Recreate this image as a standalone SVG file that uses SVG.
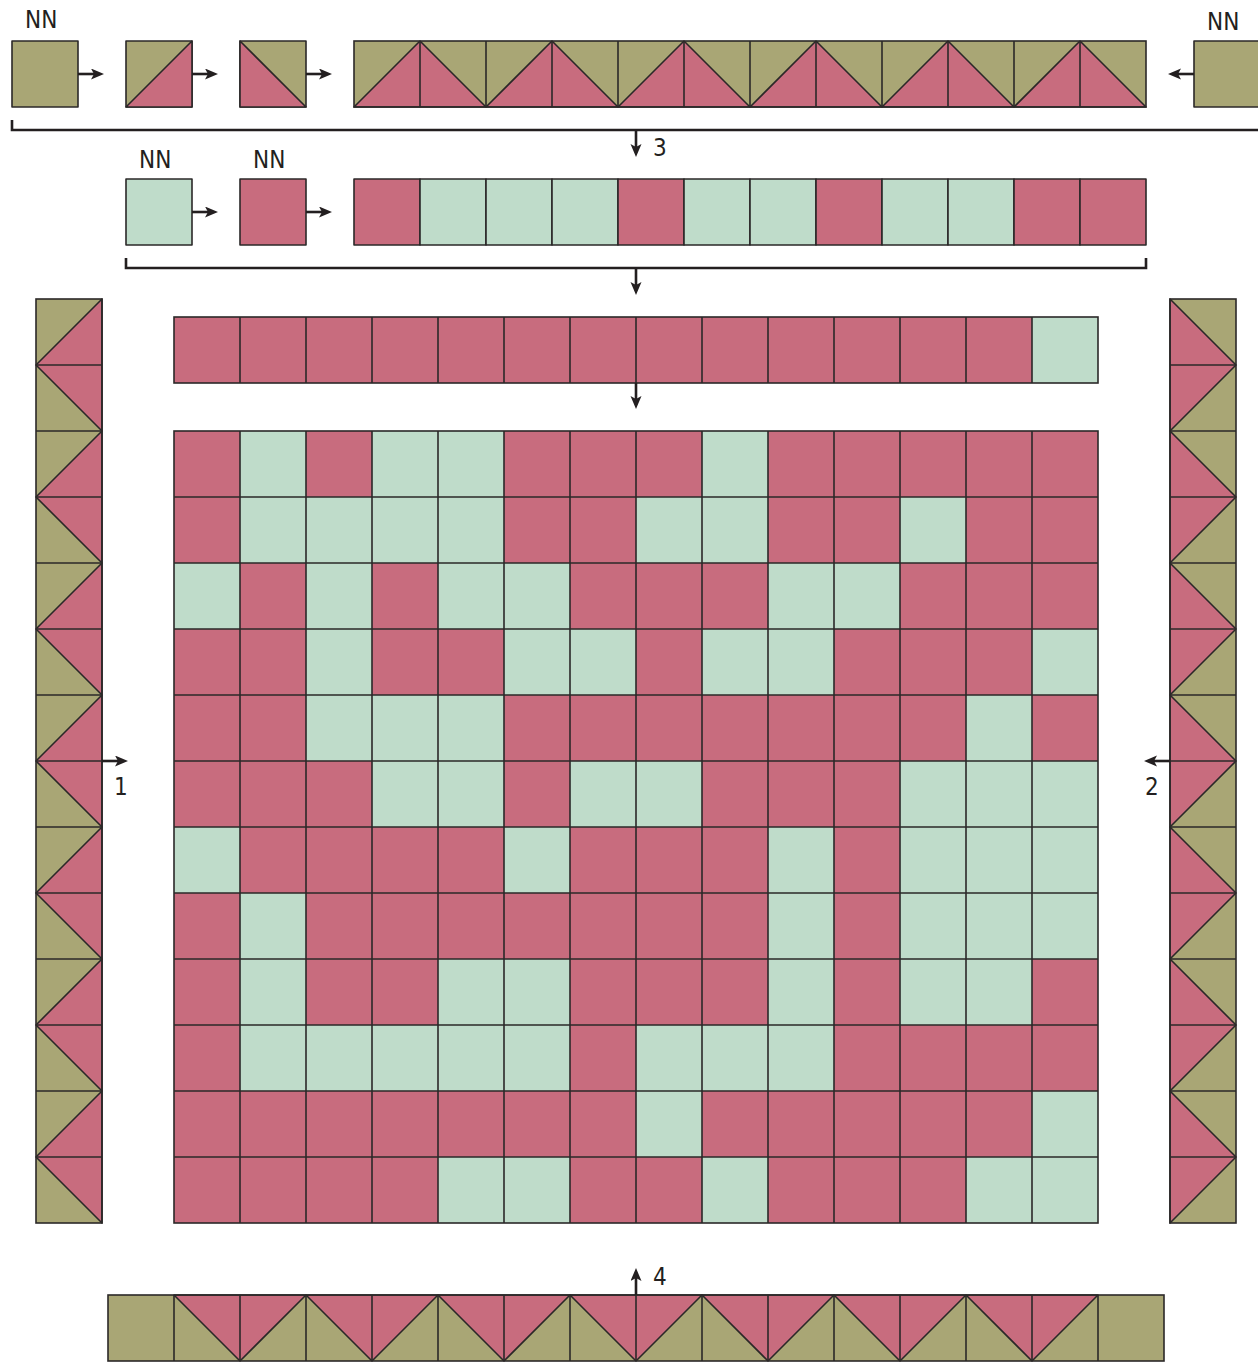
<svg xmlns="http://www.w3.org/2000/svg" width="1258" height="1362" viewBox="0 0 1258 1362">
<style>
.o{fill:#a9a675}
.p{fill:#c86c7e}
.m{fill:#bfdcca}
.s{stroke:#2b2828;stroke-width:1.6;stroke-linejoin:round}
.ln{fill:none;stroke:#2b2828;stroke-width:1.6}
.c{fill:none;stroke:#231f20;stroke-width:2.6}
.t{font-family:"DejaVu Sans Condensed","DejaVu Sans",sans-serif;font-size:24px;fill:#231f20}
</style>
<defs>
<marker id="ah" markerUnits="userSpaceOnUse" markerWidth="14" markerHeight="12" refX="5" refY="5.5" orient="auto">
<path d="M0,0 L13,5.5 L0,11 L3,5.5 z" fill="#231f20"/>
</marker>
</defs>
<rect width="1258" height="1362" fill="#fff"/>

<!-- Row 1 -->
<g id="sq1"><rect class="o s" x="12" y="41" width="66" height="66"/></g>
<g id="sq2"><rect class="o s" x="126" y="41" width="66" height="66"/><polygon class="p s" points="126,107 192,41 192,107"/></g>
<g id="sq3"><rect class="o s" x="240" y="41" width="66" height="66"/><polygon class="p s" points="240,41 306,107 240,107"/></g>
<g id="strip1">
<rect class="o" x="354" y="41" width="792" height="66"/>
<polygon class="p s" points="354,107 420,41 486,107"/>
<polygon class="p s" points="486,107 552,41 618,107"/>
<polygon class="p s" points="618,107 684,41 750,107"/>
<polygon class="p s" points="750,107 816,41 882,107"/>
<polygon class="p s" points="882,107 948,41 1014,107"/>
<polygon class="p s" points="1014,107 1080,41 1146,107"/>
<path class="ln" d="M420,41V107M486,41V107M552,41V107M618,41V107M684,41V107M750,41V107M816,41V107M882,41V107M948,41V107M1014,41V107M1080,41V107"/>
<rect class="ln" x="354" y="41" width="792" height="66"/>
</g>
<g id="sqR"><rect class="o s" x="1194" y="41" width="70" height="66"/></g>
<g id="labels1">
<text class="t" x="25" y="28">NN</text>
<text class="t" x="1207" y="30">NN</text>
</g>

<!-- Row 2 -->
<g id="sq4"><rect class="m s" x="126" y="179" width="66" height="66"/></g>
<g id="sq5"><rect class="p s" x="240" y="179" width="66" height="66"/></g>
<g id="strip2">
<rect class="p s" x="354" y="179" width="66" height="66"/>
<rect class="m s" x="420" y="179" width="66" height="66"/>
<rect class="m s" x="486" y="179" width="66" height="66"/>
<rect class="m s" x="552" y="179" width="66" height="66"/>
<rect class="p s" x="618" y="179" width="66" height="66"/>
<rect class="m s" x="684" y="179" width="66" height="66"/>
<rect class="m s" x="750" y="179" width="66" height="66"/>
<rect class="p s" x="816" y="179" width="66" height="66"/>
<rect class="m s" x="882" y="179" width="66" height="66"/>
<rect class="m s" x="948" y="179" width="66" height="66"/>
<rect class="p s" x="1014" y="179" width="66" height="66"/>
<rect class="p s" x="1080" y="179" width="66" height="66"/>
</g>
<g id="labels2">
<text class="t" x="139" y="168">NN</text>
<text class="t" x="253" y="168">NN</text>
</g>

<!-- Row 3 -->
<g id="strip3">
<rect class="p" x="174" y="317" width="924" height="66"/>
<rect class="m" x="1032" y="317" width="66" height="66"/>
<path class="ln" d="M240,317V383M306,317V383M372,317V383M438,317V383M504,317V383M570,317V383M636,317V383M702,317V383M768,317V383M834,317V383M900,317V383M966,317V383M1032,317V383"/>
<rect class="ln" x="174" y="317" width="924" height="66"/>
</g>

<!-- Left column -->
<g id="colL">
<rect class="o" x="36" y="299" width="66" height="924"/>
<polygon class="p s" points="102,299 36,365 102,431"/>
<polygon class="p s" points="102,431 36,497 102,563"/>
<polygon class="p s" points="102,563 36,629 102,695"/>
<polygon class="p s" points="102,695 36,761 102,827"/>
<polygon class="p s" points="102,827 36,893 102,959"/>
<polygon class="p s" points="102,959 36,1025 102,1091"/>
<polygon class="p s" points="102,1091 36,1157 102,1223"/>
<path class="ln" d="M36,365H102M36,431H102M36,497H102M36,563H102M36,629H102M36,695H102M36,761H102M36,827H102M36,893H102M36,959H102M36,1025H102M36,1091H102M36,1157H102"/>
<rect class="ln" x="36" y="299" width="66" height="924"/>
</g>

<!-- Right column -->
<g id="colR">
<rect class="o" x="1170" y="299" width="66" height="924"/>
<polygon class="p s" points="1170,299 1236,365 1170,431"/>
<polygon class="p s" points="1170,431 1236,497 1170,563"/>
<polygon class="p s" points="1170,563 1236,629 1170,695"/>
<polygon class="p s" points="1170,695 1236,761 1170,827"/>
<polygon class="p s" points="1170,827 1236,893 1170,959"/>
<polygon class="p s" points="1170,959 1236,1025 1170,1091"/>
<polygon class="p s" points="1170,1091 1236,1157 1170,1223"/>
<path class="ln" d="M1170,365H1236M1170,431H1236M1170,497H1236M1170,563H1236M1170,629H1236M1170,695H1236M1170,761H1236M1170,827H1236M1170,893H1236M1170,959H1236M1170,1025H1236M1170,1091H1236M1170,1157H1236"/>
<rect class="ln" x="1170" y="299" width="66" height="924"/>
</g>

<!-- Main grid -->
<g id="grid">
<rect class="p" x="174" y="431" width="924" height="792"/>
<g class="m">
<rect x="240" y="431" width="66" height="66"/><rect x="372" y="431" width="66" height="66"/><rect x="438" y="431" width="66" height="66"/><rect x="702" y="431" width="66" height="66"/>
<rect x="240" y="497" width="66" height="66"/><rect x="306" y="497" width="66" height="66"/><rect x="372" y="497" width="66" height="66"/><rect x="438" y="497" width="66" height="66"/><rect x="636" y="497" width="66" height="66"/><rect x="702" y="497" width="66" height="66"/><rect x="900" y="497" width="66" height="66"/>
<rect x="174" y="563" width="66" height="66"/><rect x="306" y="563" width="66" height="66"/><rect x="438" y="563" width="66" height="66"/><rect x="504" y="563" width="66" height="66"/><rect x="768" y="563" width="66" height="66"/><rect x="834" y="563" width="66" height="66"/>
<rect x="306" y="629" width="66" height="66"/><rect x="504" y="629" width="66" height="66"/><rect x="570" y="629" width="66" height="66"/><rect x="702" y="629" width="66" height="66"/><rect x="768" y="629" width="66" height="66"/><rect x="1032" y="629" width="66" height="66"/>
<rect x="306" y="695" width="66" height="66"/><rect x="372" y="695" width="66" height="66"/><rect x="438" y="695" width="66" height="66"/><rect x="966" y="695" width="66" height="66"/>
<rect x="372" y="761" width="66" height="66"/><rect x="438" y="761" width="66" height="66"/><rect x="570" y="761" width="66" height="66"/><rect x="636" y="761" width="66" height="66"/><rect x="900" y="761" width="66" height="66"/><rect x="966" y="761" width="66" height="66"/><rect x="1032" y="761" width="66" height="66"/>
<rect x="174" y="827" width="66" height="66"/><rect x="504" y="827" width="66" height="66"/><rect x="768" y="827" width="66" height="66"/><rect x="900" y="827" width="66" height="66"/><rect x="966" y="827" width="66" height="66"/><rect x="1032" y="827" width="66" height="66"/>
<rect x="240" y="893" width="66" height="66"/><rect x="768" y="893" width="66" height="66"/><rect x="900" y="893" width="66" height="66"/><rect x="966" y="893" width="66" height="66"/><rect x="1032" y="893" width="66" height="66"/>
<rect x="240" y="959" width="66" height="66"/><rect x="438" y="959" width="66" height="66"/><rect x="504" y="959" width="66" height="66"/><rect x="768" y="959" width="66" height="66"/><rect x="900" y="959" width="66" height="66"/><rect x="966" y="959" width="66" height="66"/>
<rect x="240" y="1025" width="66" height="66"/><rect x="306" y="1025" width="66" height="66"/><rect x="372" y="1025" width="66" height="66"/><rect x="438" y="1025" width="66" height="66"/><rect x="504" y="1025" width="66" height="66"/><rect x="636" y="1025" width="66" height="66"/><rect x="702" y="1025" width="66" height="66"/><rect x="768" y="1025" width="66" height="66"/>
<rect x="636" y="1091" width="66" height="66"/><rect x="1032" y="1091" width="66" height="66"/>
<rect x="438" y="1157" width="66" height="66"/><rect x="504" y="1157" width="66" height="66"/><rect x="702" y="1157" width="66" height="66"/><rect x="966" y="1157" width="66" height="66"/><rect x="1032" y="1157" width="66" height="66"/>
</g>
<path class="ln" d="M240,431V1223M306,431V1223M372,431V1223M438,431V1223M504,431V1223M570,431V1223M636,431V1223M702,431V1223M768,431V1223M834,431V1223M900,431V1223M966,431V1223M1032,431V1223M174,497H1098M174,563H1098M174,629H1098M174,695H1098M174,761H1098M174,827H1098M174,893H1098M174,959H1098M174,1025H1098M174,1091H1098M174,1157H1098"/>
<rect class="ln" x="174" y="431" width="924" height="792"/>
</g>

<!-- Bottom strip -->
<g id="strip4">
<rect class="o" x="108" y="1295" width="1056" height="66"/>
<polygon class="p s" points="174,1295 240,1361 306,1295"/>
<polygon class="p s" points="306,1295 372,1361 438,1295"/>
<polygon class="p s" points="438,1295 504,1361 570,1295"/>
<polygon class="p s" points="570,1295 636,1361 702,1295"/>
<polygon class="p s" points="702,1295 768,1361 834,1295"/>
<polygon class="p s" points="834,1295 900,1361 966,1295"/>
<polygon class="p s" points="966,1295 1032,1361 1098,1295"/>
<path class="ln" d="M174,1295V1361M240,1295V1361M306,1295V1361M372,1295V1361M438,1295V1361M504,1295V1361M570,1295V1361M636,1295V1361M702,1295V1361M768,1295V1361M834,1295V1361M900,1295V1361M966,1295V1361M1032,1295V1361M1098,1295V1361"/>
<rect class="ln" x="108" y="1295" width="1056" height="66"/>
</g>

<!-- Connectors -->
<g id="connectors">
<path class="c" d="M12,120V130H1258"/>
<path class="c" d="M126,258V268H1146V258"/>
<line class="c" x1="78" y1="74" x2="96" y2="74" marker-end="url(#ah)"/>
<line class="c" x1="192" y1="74" x2="210" y2="74" marker-end="url(#ah)"/>
<line class="c" x1="306" y1="74" x2="324" y2="74" marker-end="url(#ah)"/>
<line class="c" x1="1194" y1="74" x2="1176" y2="74" marker-end="url(#ah)"/>
<line class="c" x1="192" y1="212" x2="210" y2="212" marker-end="url(#ah)"/>
<line class="c" x1="306" y1="212" x2="324" y2="212" marker-end="url(#ah)"/>
<line class="c" x1="636" y1="130" x2="636" y2="149" marker-end="url(#ah)"/>
<line class="c" x1="636" y1="268" x2="636" y2="287" marker-end="url(#ah)"/>
<line class="c" x1="636" y1="383" x2="636" y2="401" marker-end="url(#ah)"/>
<line class="c" x1="102" y1="761" x2="120" y2="761" marker-end="url(#ah)"/>
<line class="c" x1="1170" y1="761" x2="1152" y2="761" marker-end="url(#ah)"/>
<line class="c" x1="636" y1="1295" x2="636" y2="1276" marker-end="url(#ah)"/>
</g>
<g id="numbers">
<text class="t" x="653" y="156">3</text>
<text class="t" x="114" y="795">1</text>
<text class="t" x="1145" y="795">2</text>
<text class="t" x="653" y="1285">4</text>
</g>
</svg>
